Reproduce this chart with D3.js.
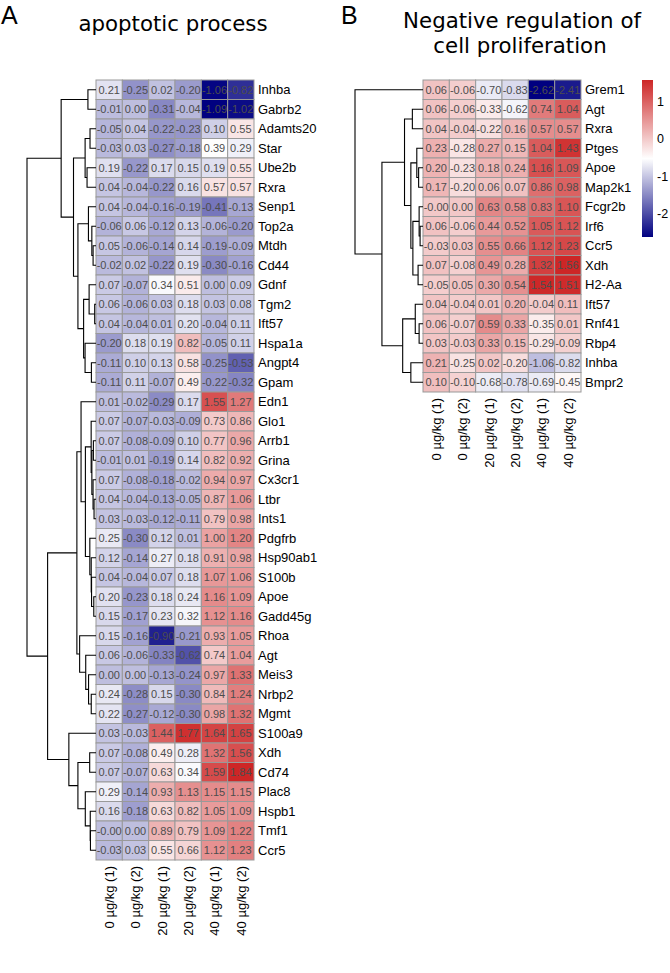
<!DOCTYPE html>
<html><head><meta charset="utf-8">
<script src="https://cdn.jsdelivr.net/npm/d3@7"></script>
<style>body{margin:0;background:#fff}</style>
</head><body>
<svg id="chart" width="670" height="973"></svg>
<script>
const columns = ["0 µg/kg (1)","0 µg/kg (2)","20 µg/kg (1)","20 µg/kg (2)","40 µg/kg (1)","40 µg/kg (2)"];

const genesA = ["Inhba","Gabrb2","Adamts20","Star","Ube2b","Rxra","Senp1","Top2a","Mtdh","Cd44",
"Gdnf","Tgm2","Ift57","Hspa1a","Angpt4","Gpam","Edn1","Glo1","Arrb1","Grina",
"Cx3cr1","Ltbr","Ints1","Pdgfrb","Hsp90ab1","S100b","Apoe","Gadd45g","Rhoa","Agt",
"Meis3","Nrbp2","Mgmt","S100a9","Xdh","Cd74","Plac8","Hspb1","Tmf1","Ccr5"];
const valuesA = [
[0.21,-0.25,0.02,-0.20,-1.06,-0.82],
[-0.01,0.00,-0.31,-0.04,-1.09,-1.02],
[-0.05,0.04,-0.22,-0.23,0.10,0.55],
[-0.03,0.03,-0.27,-0.18,0.39,0.29],
[0.19,-0.22,0.17,0.15,0.19,0.55],
[0.04,-0.04,-0.22,0.16,0.57,0.57],
[0.04,-0.04,-0.16,-0.19,-0.41,-0.13],
[-0.06,0.06,-0.12,0.13,-0.06,-0.20],
[0.05,-0.06,-0.14,0.14,-0.19,-0.09],
[-0.02,0.02,-0.22,0.19,-0.30,-0.16],
[0.07,-0.07,0.34,0.51,0.00,0.09],
[0.06,-0.06,0.03,0.18,0.03,0.08],
[0.04,-0.04,0.01,0.20,-0.04,0.11],
[-0.20,0.18,0.19,0.82,-0.05,0.11],
[-0.11,0.10,0.13,0.58,-0.25,-0.53],
[-0.11,0.11,-0.07,0.49,-0.22,-0.32],
[0.01,-0.02,-0.29,0.17,1.55,1.27],
[0.07,-0.07,-0.03,-0.09,0.73,0.86],
[0.07,-0.08,-0.09,0.10,0.77,0.96],
[-0.01,0.01,-0.19,0.14,0.82,0.92],
[0.07,-0.08,-0.18,-0.02,0.94,0.97],
[0.04,-0.04,-0.13,-0.05,0.87,1.06],
[0.03,-0.03,-0.12,-0.11,0.79,0.98],
[0.25,-0.30,0.12,0.01,1.00,1.20],
[0.12,-0.14,0.27,0.18,0.91,0.98],
[0.04,-0.04,0.07,0.18,1.07,1.06],
[0.20,-0.23,0.18,0.24,1.16,1.09],
[0.15,-0.17,0.23,0.32,1.12,1.16],
[0.15,-0.16,-0.90,-0.21,0.93,1.05],
[0.06,-0.06,-0.33,-0.62,0.74,1.04],
[0.00,0.00,-0.13,-0.24,0.97,1.33],
[0.24,-0.28,0.15,-0.30,0.84,1.24],
[0.22,-0.27,-0.12,-0.30,0.98,1.32],
[0.03,-0.03,1.44,1.77,1.64,1.65],
[0.07,-0.08,0.49,0.28,1.32,1.56],
[0.07,-0.07,0.63,0.34,1.59,1.84],
[0.29,-0.14,0.93,1.13,1.15,1.15],
[0.16,-0.18,0.63,0.82,1.05,1.09],
[-0.00,0.00,0.89,0.79,1.09,1.22],
[-0.03,0.03,0.55,0.66,1.12,1.23]
];

const genesB = ["Grem1","Agt","Rxra","Ptges","Apoe","Map2k1","Fcgr2b","Irf6","Ccr5","Xdh",
"H2-Aa","Ift57","Rnf41","Rbp4","Inhba","Bmpr2"];
const valuesB = [
[0.06,-0.06,-0.70,-0.83,-2.62,-2.41],
[0.06,-0.06,-0.33,-0.62,0.74,1.04],
[0.04,-0.04,-0.22,0.16,0.57,0.57],
[0.23,-0.28,0.27,0.15,1.04,1.43],
[0.20,-0.23,0.18,0.24,1.16,1.09],
[0.17,-0.20,0.06,0.07,0.86,0.98],
[-0.00,0.00,0.63,0.58,0.83,1.10],
[0.06,-0.06,0.44,0.52,1.05,1.12],
[-0.03,0.03,0.55,0.66,1.12,1.23],
[0.07,-0.08,0.49,0.28,1.32,1.56],
[-0.05,0.05,0.30,0.54,1.54,1.51],
[0.04,-0.04,0.01,0.20,-0.04,0.11],
[0.06,-0.07,0.59,0.33,-0.35,0.01],
[0.03,-0.03,0.33,0.15,-0.29,-0.09],
[0.21,-0.25,0.02,-0.20,-1.06,-0.82],
[0.10,-0.10,-0.68,-0.78,-0.69,-0.45]
];
const legendTicksB = [1,0,-1,-2];

const svg = d3.select("#chart");
const FONT = "'Liberation Sans', Arial, sans-serif";
const TITLE_FONT = "'DejaVu Sans', sans-serif";

// adjacent-constrained complete-linkage clustering (euclidean), consistent with the displayed order
function cluster(vals){
  const dist = (a,b) => Math.sqrt(d3.sum(a, (v,i) => (v-b[i])**2));
  let cl = vals.map((v,i) => ({leaves:[i], height:0, leaf:i}));
  while (cl.length > 1){
    let best = 0, bd = Infinity;
    for (let k = 0; k < cl.length-1; k++){
      let d = 0;
      for (const i of cl[k].leaves) for (const j of cl[k+1].leaves) d = Math.max(d, dist(vals[i], vals[j]));
      if (d < bd){ bd = d; best = k; }
    }
    const node = {leaves: cl[best].leaves.concat(cl[best+1].leaves), height: bd, children:[cl[best], cl[best+1]]};
    cl.splice(best, 2, node);
  }
  return cl[0];
}

function heatmap(opt){
  const {genes, values, x0, x1, y0, y1, treeLeft} = opt;
  const all = values.flat();
  const mn = d3.min(all), mx = d3.max(all);
  const color = d3.scaleLinear().domain([mn, (mn+mx)/2, mx]).range(["#000080","#ffffff","#CD2626"]);
  const xs = d3.scaleBand().domain(d3.range(columns.length)).range([x0, x1]);
  const ys = d3.scaleBand().domain(d3.range(genes.length)).range([y0, y1]);
  const g = svg.append("g");
  values.forEach((row, r) => row.forEach((v, c) => {
    g.append("rect").attr("x", xs(c)).attr("y", ys(r)).attr("width", xs.bandwidth()).attr("height", ys.bandwidth())
      .attr("fill", color(v)).attr("stroke", "#999999").attr("stroke-width", 1);
  }));
  values.forEach((row, r) => row.forEach((v, c) => {
    g.append("text").attr("x", xs(c) + xs.bandwidth()/2).attr("y", ys(r) + ys.bandwidth()/2)
      .attr("dy", "0.36em").attr("text-anchor", "middle").attr("font-family", FONT).attr("font-size", 11)
      .attr("fill", "#4d4d4d").text((v === 0 && Object.is(v, -0) ? "-0.00" : v.toFixed(2)));
  }));
  // row labels
  genes.forEach((gname, r) => {
    g.append("text").attr("x", x1 + 4).attr("y", ys(r) + ys.bandwidth()/2).attr("dy", "0.36em")
      .attr("font-family", FONT).attr("font-size", 13).attr("fill", "#000").text(gname);
  });
  // column labels
  columns.forEach((cname, c) => {
    const cx = xs(c) + xs.bandwidth()/2, cy = y1 + 6;
    g.append("text").attr("transform", `translate(${cx},${cy}) rotate(-90)`).attr("dy", "0.36em")
      .attr("text-anchor", "end").attr("font-family", FONT).attr("font-size", 13).attr("fill", "#000").text(cname);
  });
  // dendrogram
  const tree = cluster(values);
  const hs = d3.scaleLinear().domain([0, tree.height]).range([x0, treeLeft]);
  const pos = n => n.children ? (pos(n.children[0]) + pos(n.children[1]))/2 : ys(n.leaf) + ys.bandwidth()/2;
  const line = d3.line();
  (function draw(n){
    if (!n.children) return;
    const [a, b] = n.children;
    const pts = [[hs(a.height), pos(a)], [hs(n.height), pos(a)], [hs(n.height), pos(b)], [hs(b.height), pos(b)]];
    g.append("path").attr("d", line(pts)).attr("fill", "none").attr("stroke", "#000").attr("stroke-width", 1.1);
    draw(a); draw(b);
  })(tree);
  return {color, mn, mx};
}

const A = heatmap({genes: genesA, values: valuesA, x0: 96, x1: 254, y0: 80, y1: 860, treeLeft: 27});
const B = heatmap({genes: genesB, values: valuesB, x0: 423, x1: 581, y0: 80, y1: 392, treeLeft: 355});

// legend for B
const lx = 642, lw = 11, ltop = 80, lh = 157;
const ls = d3.scaleLinear().domain([B.mn, B.mx]).range([ltop + lh, ltop]);
const defs = svg.append("defs");
const grad = defs.append("linearGradient").attr("id", "lg").attr("x1", 0).attr("y1", 1).attr("x2", 0).attr("y2", 0);
d3.range(0, 1.0001, 0.05).forEach(t => {
  const v = B.mn + t*(B.mx - B.mn);
  grad.append("stop").attr("offset", t).attr("stop-color", B.color(v));
});
svg.append("rect").attr("x", lx).attr("y", ltop).attr("width", lw).attr("height", lh).attr("fill", "url(#lg)");
legendTicksB.forEach(t => {
  svg.append("text").attr("x", lx + lw + 4).attr("y", ls(t)).attr("dy", "0.36em")
    .attr("font-family", FONT).attr("font-size", 12.5).attr("fill", "#000").text(t);
});

// titles
svg.append("text").attr("x", 1).attr("y", 24).attr("font-family", FONT).attr("font-size", 25).text("A");
svg.append("text").attr("x", 341).attr("y", 24).attr("font-family", FONT).attr("font-size", 25).text("B");
svg.append("text").attr("x", 173).attr("y", 31).attr("text-anchor", "middle").attr("font-family", TITLE_FONT).attr("font-size", 21.3).text("apoptotic process");
const tb = svg.append("text").attr("text-anchor", "middle").attr("font-family", TITLE_FONT).attr("font-size", 21.3);
tb.append("tspan").attr("x", 522).attr("y", 28).text("Negative regulation of");
tb.append("tspan").attr("x", 520).attr("y", 53).text("cell proliferation");
</script>
</body></html>
